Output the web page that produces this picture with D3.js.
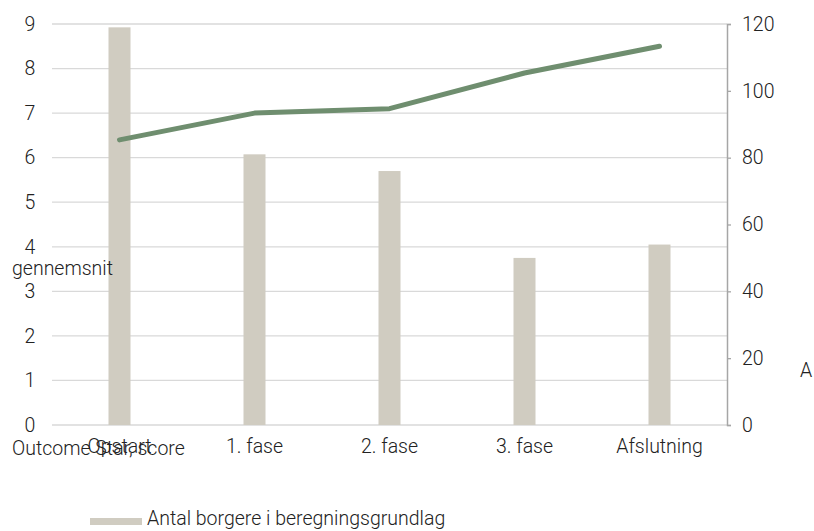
<!DOCTYPE html>
<html lang="da">
<head>
<meta charset="utf-8">
<script src="https://d3js.org/d3.v7.min.js"></script>
<style>
  body { margin: 0; background: #fff; }
  svg text { font-family: Roboto, sans-serif; font-weight: 300; fill: #222; }
</style>
</head>
<body>
<svg id="chart" width="814" height="531"></svg>
<script>
const categories = ["Opstart", "1. fase", "2. fase", "3. fase", "Afslutning"];
const antalBorgere = [119, 81, 76, 50, 54];        // bars, right axis
const scoreGennemsnit = [6.4, 7.0, 7.1, 7.9, 8.5]; // line, left axis
const leftTicks = [0, 1, 2, 3, 4, 5, 6, 7, 8, 9];
const rightTicks = [0, 20, 40, 60, 80, 100, 120];

const svg = d3.select("#chart");
const plotLeft = 52, plotRight = 727, plotTop = 24, plotBottom = 425;
const fs = "19.5px";

const x = d3.scaleBand().domain(categories).range([plotLeft, plotRight]);
const yL = d3.scaleLinear().domain([0, 9]).range([plotBottom, plotTop]);
const yR = d3.scaleLinear().domain([0, 120]).range([plotBottom, plotTop]);

// gridlines (left axis)
svg.append("g")
  .selectAll("line")
  .data(leftTicks)
  .join("line")
    .attr("x1", plotLeft).attr("x2", plotRight)
    .attr("y1", d => yL(d)).attr("y2", d => yL(d))
    .attr("stroke", "#d9d9d9").attr("stroke-width", 1.3);

// bars
svg.append("g")
  .selectAll("rect")
  .data(antalBorgere)
  .join("rect")
    .attr("x", (d, i) => x(categories[i]) + x.bandwidth() / 2 - 11)
    .attr("width", 22)
    .attr("y", d => yR(d))
    .attr("height", d => plotBottom - yR(d))
    .attr("fill", "#d0ccc1");

// line
const line = d3.line()
  .x((d, i) => x(categories[i]) + x.bandwidth() / 2)
  .y(d => yL(d));
svg.append("path")
  .datum(scoreGennemsnit)
  .attr("d", line)
  .attr("fill", "none")
  .attr("stroke", "#6f8e6f")
  .attr("stroke-width", 5)
  .attr("stroke-linecap", "round")
  .attr("stroke-linejoin", "round");

// left axis (labels only)
const gL = svg.append("g")
  .attr("transform", `translate(${plotLeft},0)`)
  .call(d3.axisLeft(yL).tickValues(leftTicks).tickSize(0).tickPadding(18));
gL.select(".domain").remove();
gL.selectAll("text").style("font-size", fs).attr("text-anchor", "middle").attr("dx", "-4");

// right axis
const gR = svg.append("g")
  .attr("transform", `translate(${plotRight},0)`)
  .call(d3.axisRight(yR).tickValues(rightTicks).tickSize(4).tickSizeOuter(4).tickPadding(11));
gR.select(".domain").attr("stroke", "#a6a6a6").attr("stroke-width", 1.5);
gR.selectAll(".tick line").attr("stroke", "#a6a6a6").attr("stroke-width", 1.3);
gR.selectAll("text").style("font-size", fs);

// x axis labels
const gX = svg.append("g")
  .attr("transform", `translate(0,${plotBottom})`)
  .call(d3.axisBottom(x).tickSize(0).tickPadding(14));
gX.select(".domain").remove();
gX.selectAll("text").style("font-size", fs);

// axis titles
svg.append("text").attr("x", 12).attr("y", 275).style("font-size", fs).text("gennemsnit");
svg.append("text").attr("x", 12).attr("y", 455).style("font-size", fs).text("Outcome Star, score");
svg.append("text").attr("x", 800).attr("y", 377).style("font-size", fs).text("A");

// legend
svg.append("rect").attr("x", 90).attr("y", 518).attr("width", 52).attr("height", 7).attr("fill", "#d0ccc1");
svg.append("text").attr("x", 147).attr("y", 525).style("font-size", fs).text("Antal borgere i beregningsgrundlag");
</script>
</body>
</html>
